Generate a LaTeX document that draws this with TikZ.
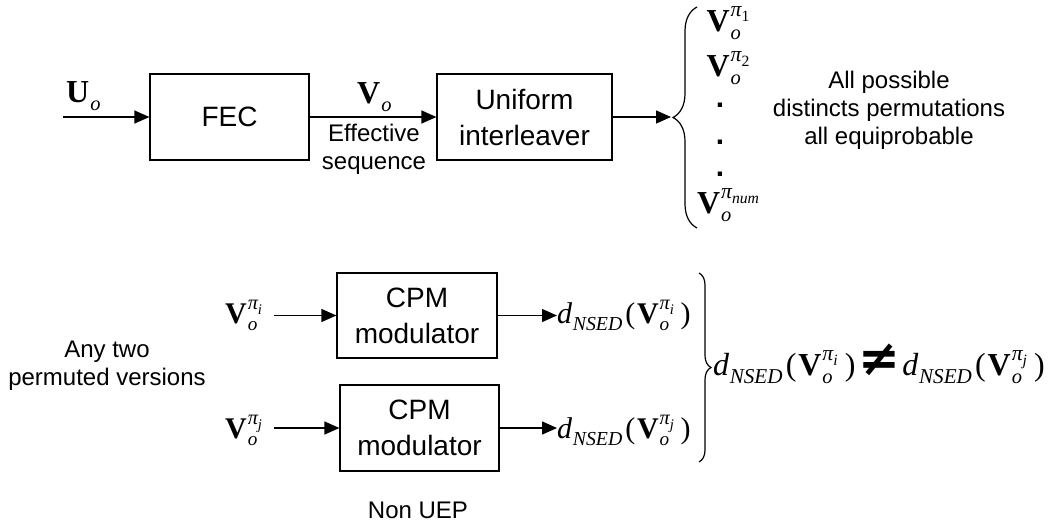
\documentclass[tikz,border=0pt]{standalone}
\usepackage{graphicx}
\usepackage{fontspec}
\setmainfont{Liberation Sans}
\newfontfamily\tnr{Liberation Serif}
\newfontfamily\djv{DejaVu Sans}
\usetikzlibrary{arrows.meta,decorations.pathreplacing}
% text-mode sub/superscripts (Times-like equation look)
\newcommand\SB[1]{\raisebox{-0.25em}{\scalebox{0.64}{#1}}}
\newcommand\SP[1]{\raisebox{0.46em}{\scalebox{0.68}{#1}}}
\newcommand\SBSP[2]{\rlap{\SB{#1}}\SP{#2}}
\newcommand\pisub[1]{{\itshape π}\raisebox{-0.25em}{\scalebox{0.72}{#1}}}
\newcommand\Vp[1]{{\bfseries V}\kern.03em\SBSP{\itshape o}{\pisub{#1}}}
\newcommand\dN[1]{{\itshape d}\kern.02em\raisebox{-0.26em}{\scalebox{0.66}{\itshape NSED}}\kern.1em(\kern.06em\Vp{#1}\kern.22em)}
\tikzset{
  blk/.style={draw, line width=1.2pt, align=center, inner sep=0pt,
    font=\fontsize{28}{36}\selectfont},
  arr/.style={-{Triangle[length=15pt,width=13pt]}, line width=1.2pt},
  lbl/.style={align=center, inner sep=0pt, font=\fontsize{24}{28}\selectfont},
  mth/.style={inner sep=0pt, font=\tnr},
  brc/.style={decorate, decoration={brace, amplitude=#1}, line width=1.2pt},
}
\begin{document}
\begin{tikzpicture}[x=1pt,y=-1pt]
\useasboundingbox (0,0) rectangle (1059,528);
% ---------- top row ----------
\node[blk, minimum width=159pt, minimum height=86pt] (fec) at (229.5,117) {FEC};
\node[blk, minimum width=175pt, minimum height=86pt] (uni) at (524.5,117) {Uniform\\interleaver};
\coordinate (in) at (63,117);
\coordinate (btip) at (671,117);
\node[mth, anchor=base west] (uo) at (66,102) {\fontsize{32}{38}\selectfont{\bfseries U}\kern.03em\SB{\itshape o}};
\node[mth, anchor=base west] (vo) at (357,103) {\fontsize{32}{38}\selectfont{\bfseries V}\kern.03em\SB{\itshape o}};
\node[lbl] (eff) at (374,149) {Effective\\sequence};
\draw[arr] (in) -- (fec);
\draw[arr] (fec) -- (uni);
\draw[arr] (uni) -- (btip);
\draw[brc=24pt] (697,228) -- (697,7);
\node[mth, anchor=base] (p1) at (728,31) {\fontsize{32}{38}\selectfont\Vp{1}};
\node[mth, anchor=base] (p2) at (728,76) {\fontsize{32}{38}\selectfont\Vp{2}};
\node[inner sep=0pt, anchor=base] (d1) at (720,107) {\fontsize{30}{32}\selectfont\bfseries .};
\node[inner sep=0pt, anchor=base] (d2) at (720,144) {\fontsize{30}{32}\selectfont\bfseries .};
\node[inner sep=0pt, anchor=base] (d3) at (720,176) {\fontsize{30}{32}\selectfont\bfseries .};
\node[mth, anchor=base] (pn) at (728,213) {\fontsize{32}{38}\selectfont\Vp{\itshape num}};
\node[lbl] (all) at (889,110) {All possible\\distincts permutations\\all equiprobable};
% ---------- bottom ----------
\node[blk, minimum width=160pt, minimum height=85pt] (m1) at (417,315.5) {CPM\\modulator};
\node[blk, minimum width=159pt, minimum height=86pt] (m2) at (419.5,428) {CPM\\modulator};
\node[mth, anchor=base west] (vi) at (225,323) {\fontsize{30}{36}\selectfont\Vp{\itshape i}};
\node[mth, anchor=base west] (vj) at (225,438) {\fontsize{30}{36}\selectfont\Vp{\itshape j}};
\draw[arr] ([xshift=12pt]vi.east |- m1.west) -- (m1.west);
\draw[arr] ([xshift=12pt]vj.east |- m2.west) -- (m2.west);
\node[mth, anchor=base west] (di) at (557,323) {\fontsize{30}{36}\selectfont\dN{\itshape i}};
\node[mth, anchor=base west] (dj) at (557,438) {\fontsize{30}{36}\selectfont\dN{\itshape j}};
\draw[arr] (m1.east) -- (m1.east -| di.west);
\draw[arr] (m2.east) -- (m2.east -| dj.west);
\draw[brc=12pt] (699,273) -- (699,462);
\node[mth, anchor=base west] (neq) at (713,375) {\fontsize{32}{36}\selectfont\dN{\itshape i}\kern.08em{\djv\bfseries\fontsize{50}{50}\selectfont ≠}\kern.08em\dN{\itshape j}};
\node[lbl] (any) at (107,366) {Any two\\permuted versions};
\node[lbl] (uep) at (418,510) {Non UEP};
\end{tikzpicture}
\end{document}
